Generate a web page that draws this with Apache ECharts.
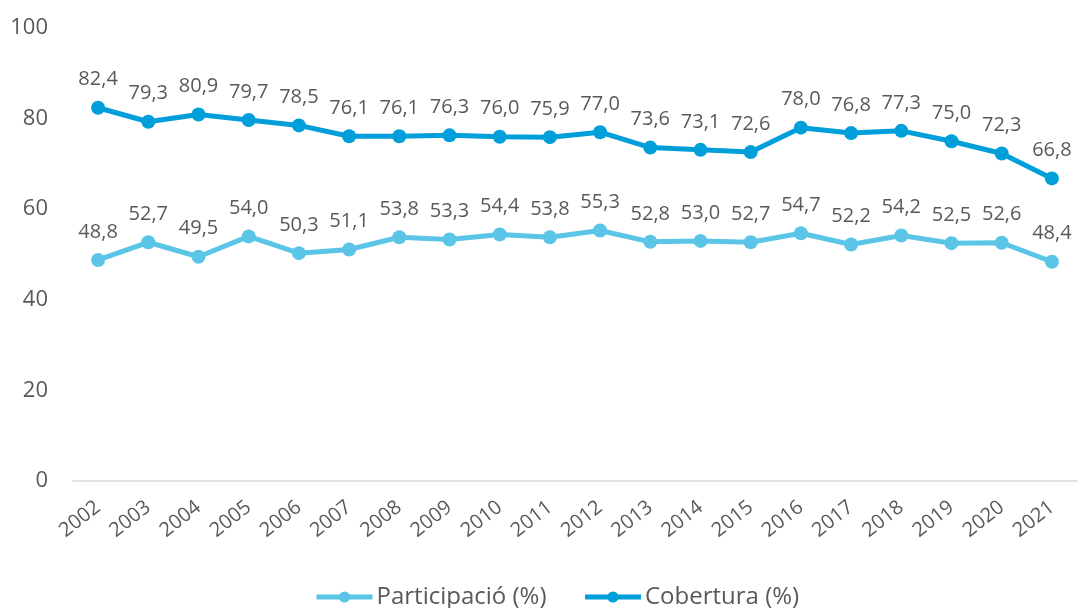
<!DOCTYPE html>
<html>
<head>
<meta charset="utf-8">
<script src="https://cdn.jsdelivr.net/npm/echarts@6/dist/echarts.min.js"></script>
<style>
  html, body { margin: 0; padding: 0; background: #fff; }
  #chart { width: 1078px; height: 608px; }
</style>
</head>
<body>
<div id="chart"></div>
<script>
// categories and series values
const years = ["2002", "2003", "2004", "2005", "2006", "2007", "2008", "2009", "2010", "2011",
  "2012", "2013", "2014", "2015", "2016", "2017", "2018", "2019", "2020", "2021"];
const participacio = [48.8, 52.7, 49.5, 54.0, 50.3, 51.1, 53.8, 53.3, 54.4, 53.8,
  55.3, 52.8, 53.0, 52.7, 54.7, 52.2, 54.2, 52.5, 52.6, 48.4];
const cobertura = [82.4, 79.3, 80.9, 79.7, 78.5, 76.1, 76.1, 76.3, 76.0, 75.9,
  77.0, 73.6, 73.1, 72.6, 78.0, 76.8, 77.3, 75.0, 72.3, 66.8];

const textColor = "#595959";
const fontFamily = "'Open Sans', 'Noto Sans', sans-serif";

function fmt(v) {
  return v.toFixed(1).replace(".", ",");
}

function makeSeries(name, data, color) {
  return {
    name: name,
    type: "line",
    data: data,
    symbol: "circle",
    symbolSize: 14,
    lineStyle: { width: 5, color: color },
    itemStyle: { color: color },
    label: {
      show: true,
      position: "top",
      distance: 11,
      color: textColor,
      fontSize: 20,
      fontFamily: fontFamily,
      formatter: (p) => fmt(p.value)
    }
  };
}

let chart = echarts.init(document.getElementById("chart"));
chart.setOption({
  animation: false,
  textStyle: { fontFamily: fontFamily },
  grid: { left: 73, right: 1, top: 28, bottom: 127 },
  legend: {
    top: 580,
    left: 309,
    itemWidth: 56,
    itemHeight: 14,
    itemGap: 36,
    lineStyle: { width: 5 },
    textStyle: { color: textColor, fontSize: 24, fontFamily: fontFamily, padding: [0, 0, 0, -1] },
    data: ["Participació (%)", "Cobertura (%)"]
  },
  xAxis: {
    type: "category",
    data: years,
    boundaryGap: true,
    axisLine: { lineStyle: { color: "#d9d9d9", width: 1.5 } },
    axisTick: { show: false },
    axisLabel: { color: textColor, fontSize: 20, rotate: 38, margin: 24, interval: 0 }
  },
  yAxis: {
    type: "value",
    min: 0,
    max: 100,
    interval: 20,
    splitLine: { show: false },
    axisLine: { show: false },
    axisTick: { show: false },
    axisLabel: { color: textColor, fontSize: 22, margin: 25 }
  },
  series: [
    makeSeries("Participació (%)", participacio, "#5bc5e8"),
    makeSeries("Cobertura (%)", cobertura, "#009fda")
  ]
});
</script>
</body>
</html>
